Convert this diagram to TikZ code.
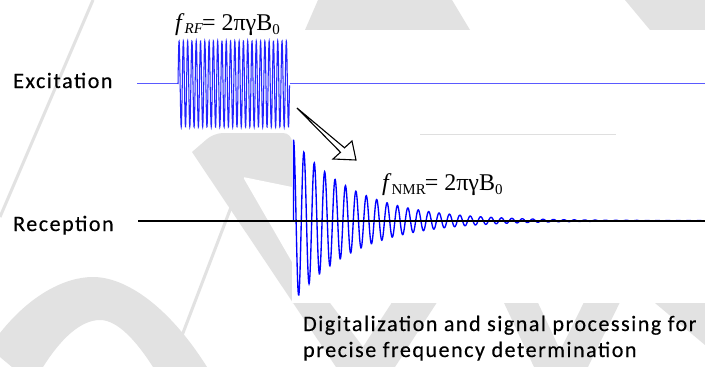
\documentclass[tikz,border=0pt]{standalone}
\usepackage{fontspec}
\setmainfont{Liberation Serif}
\newfontfamily\labfont{Carlito}[LetterSpace=7,FakeBold=0.4]
\definecolor{excblue}{RGB}{90,90,255}
\definecolor{pulseblue}{RGB}{35,35,255}
\definecolor{fidblue}{RGB}{0,0,255}
\definecolor{wm}{RGB}{226,226,226}
\tikzset{
  wmark/.style={fill=wm, draw=none},
  wline/.style={draw=wm, line width=3pt},
  siglabel/.style={font=\labfont\fontsize{22}{26}\selectfont, inner sep=0pt, anchor=base west},
  eqlabel/.style={font=\fontsize{24}{24}\selectfont, inner sep=0pt, anchor=base west},
  exline/.style={draw=excblue, line width=1.6pt},
  recline/.style={draw=black, line width=1.9pt},
  pulsestyle/.style={draw=pulseblue, line width=1.05pt},
  fidstyle/.style={draw=fidblue, line width=1.35pt},
  hollowarrow/.style={draw=black, fill=white, line width=1.1pt, line join=miter}
}
\begin{document}
\begin{tikzpicture}[x=1pt,y=-1pt]
\useasboundingbox (0,0) rectangle (705,367);
\fill[white] (0,0) rectangle (705,367);
% watermark
\draw[wline] (93,0) -- (0,217);
\fill[wmark, rounded corners=9pt] (192,152) -- (214,133) -- (292,133) [sharp corners] -- (292,303) -- (330,303) -- (378,367) -- (336,367) -- cycle;
\fill[white] (243,177) -- (292,187) -- (292,262) -- cycle;
\draw[wline] (246,168) -- (170,367);
\fill[wmark] (0,333) .. controls (30,295) and (65,277) .. (93,277) .. controls (125,277) and (168,305) .. (207,367) -- (153,367) .. controls (137,342) and (118,320) .. (100,320) .. controls (80,320) and (60,340) .. (43,367) -- (12,367) -- (0,357) -- cycle;
\fill[wmark] (350,367) -- (395,367) -- (445,290) -- (400,290) -- cycle;
\fill[wmark] (318,0) -- (452,0) -- (470,30) -- (305,30) -- cycle;
\fill[wmark] (625,0) -- (705,0) -- (705,30) -- (650,30) -- cycle;
\fill[wmark] (498,290) -- (532,290) -- (568,367) -- (534,367) -- cycle;
\fill[wmark] (552,367) -- (588,367) -- (626,290) -- (590,290) -- cycle;
\fill[wmark] (655,303) -- (705,303) -- (705,345) -- cycle;
% figure background
\fill[white] (292,30) rectangle (705,303);
\draw[gray!25, line width=0.6pt] (420,134.5) -- (616,134.5);
% labels
\node[siglabel] (exc) at (13,88) {Excitation};
\node[siglabel] (rec) at (13,231) {Reception};
\node[eqlabel] (rf) at (175,30) {\textit{f}\raisebox{-0.35ex}{\fontsize{15}{15}\selectfont\textit{RF}}\kern-1pt= 2πγB\raisebox{-0.45ex}{\fontsize{15}{15}\selectfont 0}};
\node[eqlabel] (nmr) at (382,190) {\textit{f}\raisebox{-0.45ex}{\fontsize{15}{15}\selectfont NMR}\kern-1pt= 2πγB\raisebox{-0.45ex}{\fontsize{15}{15}\selectfont 0}};
\node[siglabel, align=left] (dig) at (303,357) {Digitalization and signal processing for\\precise frequency determination};
% excitation
\coordinate (exs) at (137,83.5);
\coordinate (pa) at (178,83.5);
\coordinate (pb) at (289.5,83.5);
\coordinate (exe) at (705,83.5);
\draw[exline] (exs) -- (pa);
\draw[exline] (pb) -- (exe);
\draw[pulsestyle] plot[domain=0:26.0, samples=900] ({178+4.29*\x}, {84 - 43*sin(360*\x)});
% reception
\coordinate (rs) at (138,220.7);
\coordinate (re) at (705,220.7);
\coordinate (fs) at (293.5,220.7);
\draw[fidstyle] (fs) -- (293.5,139.5) -- plot[domain=0:39.5, samples=1400] ({293.5+10.4*\x}, {220.7 - 81*exp(-10.4*\x/62)*cos(360*\x)});
\draw[recline] (rs) -- (re);
% hollow arrow
\coordinate (at) at (297,108);
\coordinate (as1) at (344.5,147.8);
\coordinate (ah1) at (352,141);
\coordinate (atip) at (356,160);
\coordinate (ah2) at (333,159);
\coordinate (as2) at (340.5,152.3);
\draw[hollowarrow] (at) -- (as1) -- (ah1) -- (atip) -- (ah2) -- (as2) -- cycle;
\end{tikzpicture}
\end{document}
